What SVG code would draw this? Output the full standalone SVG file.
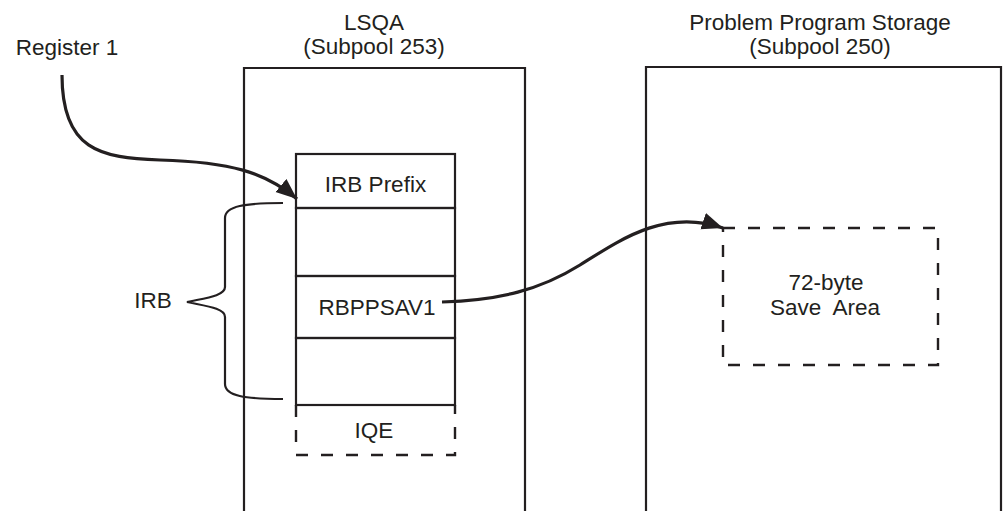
<svg xmlns="http://www.w3.org/2000/svg" width="1003" height="511" viewBox="0 0 1003 511">
<style>
text{font-family:"Liberation Sans",Arial,sans-serif;font-size:22.5px;fill:#231f20;text-anchor:middle;white-space:pre}
.ln{fill:none;stroke:#231f20;stroke-width:2.2}
.dash{fill:none;stroke:#231f20;stroke-width:2.4;stroke-dasharray:12 13}
.conn{fill:none;stroke:#231f20;stroke-width:3.2}
</style>
<defs>
<marker id="ah" markerUnits="userSpaceOnUse" markerWidth="22" markerHeight="18" refX="21" refY="8.5" orient="auto">
<path d="M0,0 L21,8.5 L0,17 z" fill="#231f20"/>
</marker>
</defs>
<rect width="1003" height="511" fill="#fff"/>
<g id="lsqa">
<path class="ln" d="M244,511 V68 H525 V511"/>
<text x="374" y="30">LSQA</text>
<text x="374" y="54">(Subpool 253)</text>
</g>
<g id="pps">
<path class="ln" d="M646,511 V67 H1001 V511"/>
<text x="820" y="30">Problem Program Storage</text>
<text x="820" y="54">(Subpool 250)</text>
</g>
<g id="register1">
<text x="67" y="55">Register 1</text>
</g>
<g id="irb-prefix">
<rect class="ln" x="296" y="154" width="159" height="54"/>
<text x="375.5" y="192">IRB Prefix</text>
</g>
<g id="irb-slot1">
<rect class="ln" x="296" y="208" width="159" height="68"/>
</g>
<g id="rbppsav1">
<rect class="ln" x="296" y="276" width="159" height="62"/>
<text x="377" y="315">RBPPSAV1</text>
</g>
<g id="irb-slot3">
<rect class="ln" x="296" y="338" width="159" height="67"/>
</g>
<g id="iqe">
<path class="dash" d="M296,405 V455 H455 V405"/>
<text x="374" y="438">IQE</text>
</g>
<g id="irb-brace">
<path class="ln" d="M283,203 C245,203 225,206 225,218 V287 C225,296 205,298 187,302 C205,306 225,308 225,317 V384 C225,396 245,399 283,399"/>
<text x="153" y="308">IRB</text>
</g>
<g id="save-area">
<path class="dash" d="M723,228 H938 V365 H723 Z"/>
<text x="826" y="290">72-byte</text>
<text x="825" y="315">Save  Area</text>
</g>
<g id="connectors">
<path class="conn" marker-end="url(#ah)" d="M62,75 C62,150 100,158 160,160 C230,162 265,172 297,199"/>
<path class="conn" marker-end="url(#ah)" d="M442,302 C500,300 540,290 580,265 C620,240 665,208 723,228"/>
</g>
</svg>
